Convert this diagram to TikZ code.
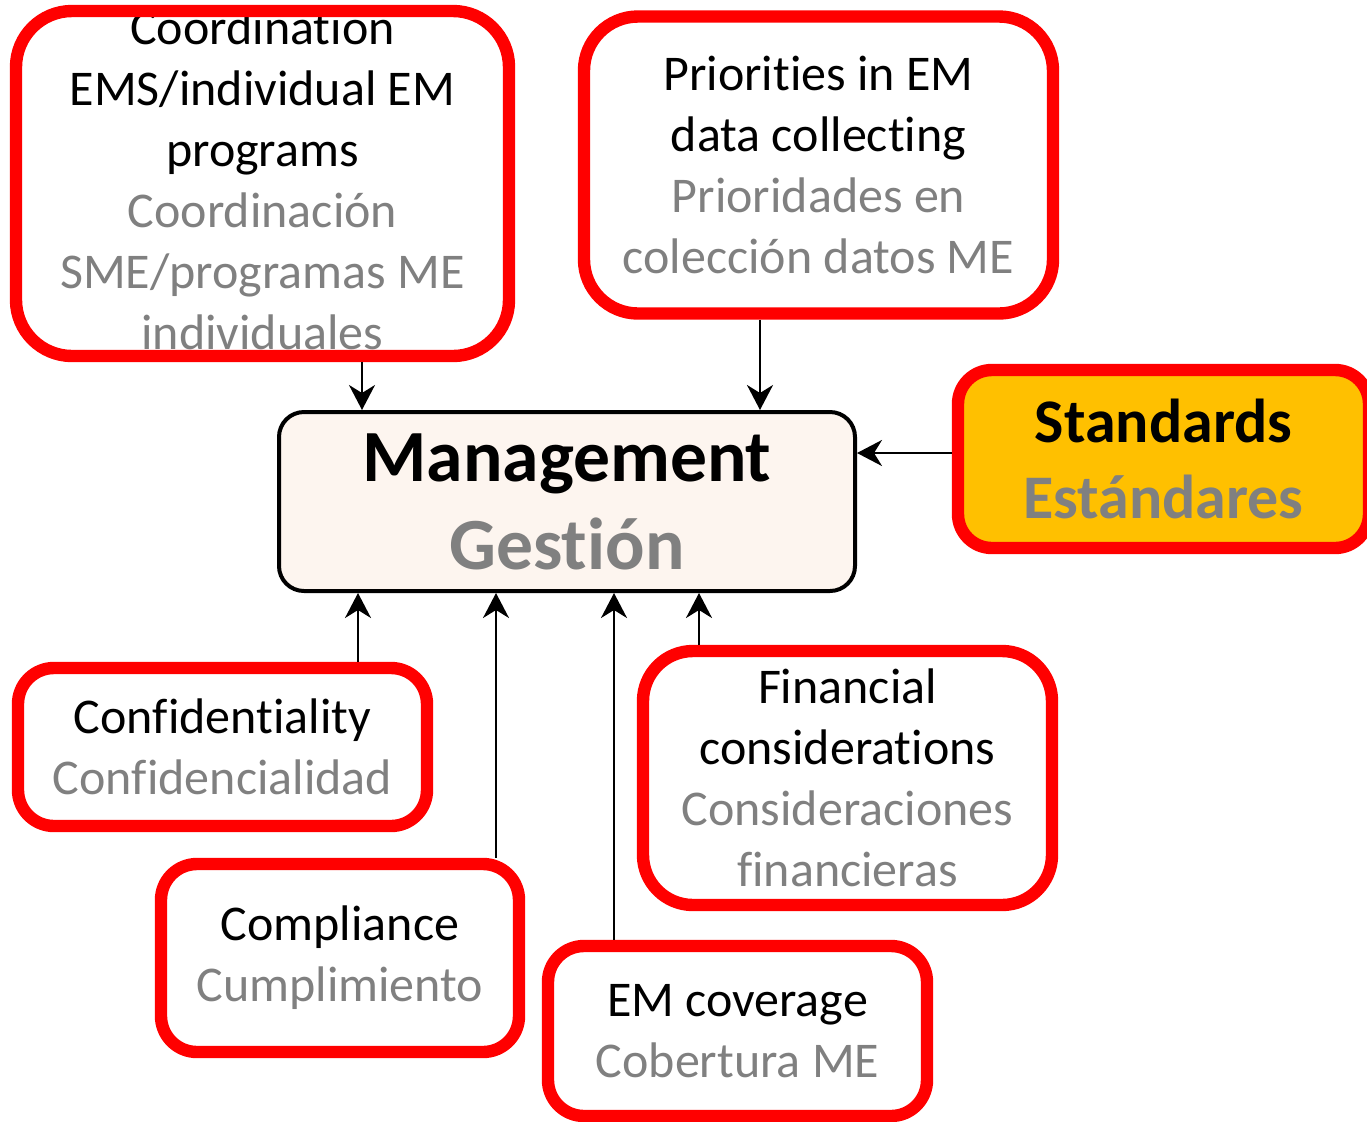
\documentclass[tikz,border=0pt]{standalone}
\usepackage{fontspec}
\setmainfont{Carlito}[Ligatures={NoCommon,NoRequired,NoContextual},RawFeature=-calt,RawFeature=-liga,RawFeature=-dlig]
\usetikzlibrary{positioning,arrows.meta}
\definecolor{txtgray}{RGB}{128,128,128}
\definecolor{boxred}{RGB}{255,0,0}
\definecolor{stdorange}{RGB}{255,192,0}
\definecolor{mgmtfill}{RGB}{253,245,239}

\begin{document}
\begin{tikzpicture}[x=0.5pt,y=-0.5pt,
    txt/.style={inner sep=0pt, align=center, font=\fontsize{25}{30.5}\selectfont},
    redbox/.style={txt, draw=boxred, line width=6.2pt, rounded corners=#1},
    redbox/.default=18pt,
    arr/.style={-{Stealth[length=12.5pt,width=13pt,inset=4pt]}, line width=1.2pt}]
	\useasboundingbox (0,0) rectangle (1367,1121);

	\node[txt] (coordtext) at (262.5,180) {Coordination\\ EMS/individual EM\\ programs\\ \textcolor{txtgray}{Coordinación}\\ \textcolor{txtgray}{SME/programas ME}\\ \textcolor{txtgray}{individuales}};
	\node[redbox=28pt, minimum width=246.5pt, minimum height=172.5pt] (coord) at (262.5,183.5) {};

	\node[redbox=27pt, minimum width=234.5pt, minimum height=148.5pt] (prio) at (818.5,165) {Priorities in EM\\ data collecting\\ \textcolor{txtgray}{Prioridades en}\\ \textcolor{txtgray}{colección datos ME}};

	\node[redbox=17pt, fill=stdorange, minimum width=205.5pt, minimum height=89pt, font=\bfseries\fontsize{31}{38}\selectfont] (stand) at (1163.5,459) {Standards\\ \textcolor{txtgray}{Estándares}};

	\node[draw, line width=2pt, fill=mgmtfill, rounded corners=12.5pt, inner sep=0pt, minimum width=288pt, minimum height=89.5pt, align=center, font=\bfseries\fontsize{36.8}{44}\selectfont] (mgmt) at (567,501.5) {Management\\ \textcolor{txtgray}{Gestión}};

	\node[redbox, minimum width=204.5pt, minimum height=79pt] (conf) at (222.5,747) {Confidentiality\\ \textcolor{txtgray}{Confidencialidad}};
	\node[redbox, minimum width=179pt, minimum height=94pt] (compl) at (340,958) {Compliance\\ \textcolor{txtgray}{Cumplimiento}};
	\node[redbox, minimum width=189.5pt, minimum height=85pt] (cover) at (737.5,1031) {EM coverage\\ \textcolor{txtgray}{Cobertura ME}};
	\node[redbox=25pt, minimum width=204.5pt, minimum height=127pt] (fin) at (847.5,778) {Financial\\ considerations\\ \textcolor{txtgray}{Consideraciones}\\ \textcolor{txtgray}{financieras}};

	\draw[arr] ([xshift=49.75pt]coord.south) -- ([xshift=49.75pt]coord.south |- mgmt.north);
	\draw[arr] ([xshift=-29.25pt]prio.south) -- ([xshift=-29.25pt]prio.south |- mgmt.north);
	\draw[arr] ([yshift=3pt]stand.west) -- ([yshift=3pt]stand.west -| mgmt.east);
	\draw[arr] ([xshift=67.75pt]conf.north) -- ([xshift=67.75pt]conf.north |- mgmt.south);
	\draw[arr] ([xshift=78pt]compl.north) -- ([xshift=78pt]compl.north |- mgmt.south);
	\draw[arr] ([xshift=-61.75pt]cover.north) -- ([xshift=-61.75pt]cover.north |- mgmt.south);
	\draw[arr] ([xshift=-74.25pt]fin.north) -- ([xshift=-74.25pt]fin.north |- mgmt.south);
\end{tikzpicture}
\end{document}
